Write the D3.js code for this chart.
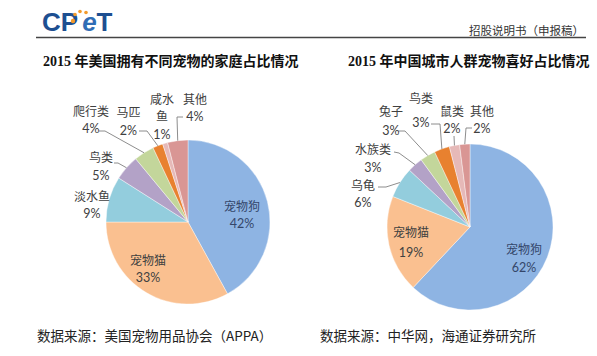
<!DOCTYPE html>
<html><head><meta charset="utf-8">
<script src="https://cdn.jsdelivr.net/npm/d3@7/dist/d3.min.js"></script>
<style>
html,body{margin:0;padding:0;background:#fff;}
svg{display:block;}
</style></head>
<body>
<script>
// ---- data ----
const leftTitle = "2015 年美国拥有不同宠物的家庭占比情况";
const leftCategories = ["宠物狗","宠物猫","淡水鱼","鸟类","爬行类","马匹","咸水鱼","其他"];
const leftValues = [42,33,9,5,4,2,1,4];
const leftSource = "数据来源：美国宠物用品协会（APPA）";

const rightTitle = "2015 年中国城市人群宠物喜好占比情况";
const rightCategories = ["宠物狗","宠物猫","乌龟","水族类","兔子","鸟类","鼠类","其他"];
const rightValues = [62,19,6,3,3,3,2,2];
const rightSource = "数据来源：中华网，海通证券研究所";

const headerText = "招股说明书（申报稿）";

// ---- styles / layout ----
const leftColors = ["#8EB4E3","#FAC090","#93CDDD","#B3A2C7","#C3D69B","#E8812F","#E6B9B8","#D99694"];
const rightColors = ["#8EB4E3","#FAC090","#93CDDD","#B3A2C7","#C3D69B","#E8812F","#E6B9B8","#D99694"];

// label layout relative to pie center: x, y (first line center), line height, split, leader pts
const leftLayout = [
  {x:54,y:-15,lh:16},
  {x:-40,y:39,lh:16},
  {x:-96,y:-25,lh:16},
  {x:-87,y:-64,lh:17,leader:[[-74,-59],[-70,-59]]},
  {x:-97,y:-110,lh:16,leader:[[-89,-91],[-83,-91]]},
  {x:-59.5,y:-109,lh:17,leader:[[-49,-91],[-41,-91]]},
  {x:-26,y:-122,lh:17,split:2},
  {x:7,y:-122,lh:16,leader:[[-5,-105],[-11,-105]]}
];
const rightLayout = [
  {x:54,y:23,lh:17},
  {x:-59,y:6,lh:19},
  {x:-107,y:-41,lh:16,leader:[[-92,-40],[-84,-40]]},
  {x:-97,y:-77,lh:17,leader:[[-76,-75],[-71,-74]]},
  {x:-79,y:-115,lh:18,leader:[[-72,-96],[-65,-96]]},
  {x:-49,y:-128,lh:23,leader:[[-39,-103],[-30,-103]]},
  {x:-18,y:-115,lh:16,leader:[[-16,-91]]},
  {x:12,y:-115,lh:16,leader:[[2,-99],[-4,-99]]}
];

const W = 597, H = 356;
const svg = d3.select("body").append("svg").attr("width",W).attr("height",H);
svg.append("rect").attr("width",W).attr("height",H).attr("fill","#fff");

// header / logo
const logo = svg.append("text").attr("x",42).attr("y",31)
  .attr("font-family","Liberation Sans, Arial, sans-serif").attr("font-weight","bold")
  .attr("font-size",26).attr("fill","#1D4F91");
logo.append("tspan").text("CP");
logo.append("tspan").attr("dx",4).attr("fill","#2F6DB5").attr("font-style","italic").text("e");
logo.append("tspan").text("T");
[[73,21,2.2],[75,14.5,1.8],[80,11.5,1.8],[86,12.5,1.8]].forEach(p=>{
  svg.append("circle").attr("cx",p[0]).attr("cy",p[1]).attr("r",p[2]).attr("fill","#F39A2B");
});
svg.append("line").attr("x1",36).attr("x2",586).attr("y1",37.5).attr("y2",37.5)
  .attr("stroke","#444").attr("stroke-width",1.3);
svg.append("text").attr("x",584).attr("y",34.5).attr("text-anchor","end")
  .attr("font-family","Noto Sans CJK SC, sans-serif").attr("font-size",11.5).attr("fill","#333")
  .text(headerText);

function drawPie(cx, cy, r, cats, vals, colors, layout, title, titleX, source, sourceX){
  const g = svg.append("g").attr("transform",`translate(${cx},${cy})`);
  const pie = d3.pie().sort(null).value(d=>d.v).startAngle(0).endAngle(2*Math.PI);
  const data = pie(cats.map((c,i)=>({c, v:vals[i], i})));
  const arc = d3.arc().innerRadius(0).outerRadius(r);
  g.selectAll("path.slice").data(data).join("path").attr("class","slice")
    .attr("d",arc).attr("fill",d=>colors[d.data.i]).attr("stroke","#fff").attr("stroke-width",0.4);

  data.forEach(d=>{
    const L = layout[d.data.i];
    if(L.leader){
      const mid = (d.startAngle+d.endAngle)/2;
      const end = [r*Math.sin(mid), -r*Math.cos(mid)];
      const pts = L.leader.concat([end]);
      g.append("path").attr("d",d3.line()(pts)).attr("fill","none")
        .attr("stroke","#808080").attr("stroke-width",0.9);
    }
    const name = d.data.c;
    const lines = L.split ? [name.slice(0,L.split), name.slice(L.split)] : [name];
    const fill = d.data.i===0 ? "#34466a" : "#404040";
    lines.forEach((ln,k)=>{
      g.append("text").attr("text-anchor","middle")
        .attr("font-family","Noto Sans CJK SC, sans-serif").attr("font-size",12)
        .attr("fill",fill).attr("x",L.x).attr("y",L.y + k*L.lh).attr("dy","0.36em").text(ln);
    });
    g.append("text").attr("text-anchor","middle")
      .attr("font-family","Lato, Open Sans, sans-serif").attr("font-size",12.5)
      .attr("fill",fill).attr("x",L.x).attr("y",L.y + lines.length*L.lh).attr("dy","0.36em")
      .text(d.data.v + "%");
  });

  const tt = svg.append("text").attr("x",titleX).attr("y",66)
    .attr("font-family","Noto Sans CJK SC, sans-serif").attr("font-weight","bold")
    .attr("font-size",14).attr("fill","#111");
  const m = title.match(/^(\d+)\s*(.*)$/);
  tt.append("tspan").attr("font-family","Liberation Serif, serif").text(m[1]+" ");
  tt.append("tspan").text(m[2]);

  svg.append("text").attr("x",sourceX).attr("y",341)
    .attr("font-family","Noto Sans CJK SC, sans-serif").attr("font-size",13.5).attr("fill","#222")
    .text(source);
}

drawPie(188,222,82,leftCategories,leftValues,leftColors,leftLayout,leftTitle,43,leftSource,37);
drawPie(470,227,83,rightCategories,rightValues,rightColors,rightLayout,rightTitle,348,rightSource,320);
</script>
</body></html>
